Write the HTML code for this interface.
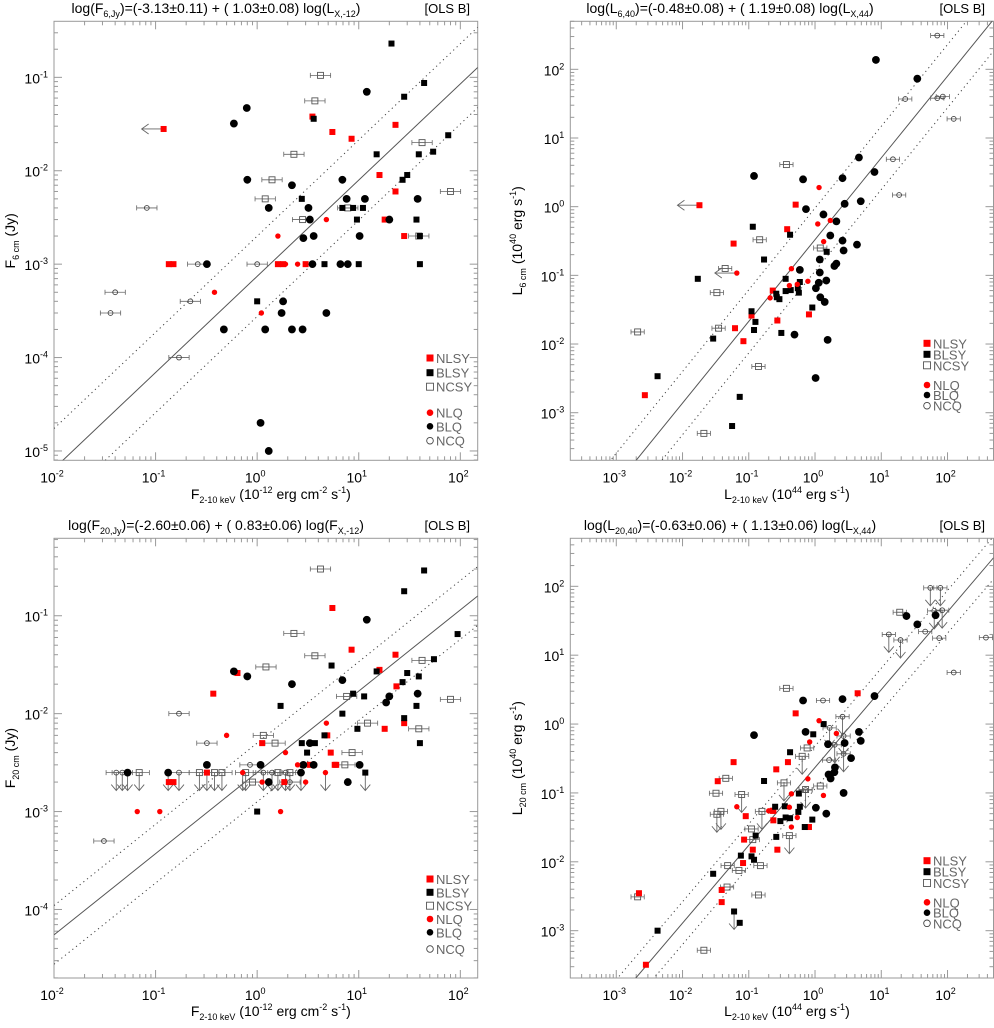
<!DOCTYPE html>
<html><head><meta charset="utf-8">
<style>
html,body{margin:0;padding:0;background:#fff;}
svg{display:block;font-family:"Liberation Sans",Arial,sans-serif;}
</style></head>
<body>
<svg id="chart" width="994" height="1028" viewBox="0 0 994 1028" xmlns="http://www.w3.org/2000/svg"></svg>
<script>
// ===== Panel 1: F6cm vs F2-10keV =====
const p1_nlsy_x=[3.5,5.5,8.5,23,16,23,18,28,0.135,0.15,1.6,1.8,3.0];
const p1_nlsy_y=[0.038,0.026,0.022,0.031,0.009,0.006,0.003,0.002,0.001,0.001,0.001,0.001,0.001];
const p1_nlsy_lx=[0.12]; const p1_nlsy_ly=[0.028];
const p1_nlq_x=[1.6,4.8,0.38,1.1,1.9,2.5];
const p1_nlq_y=[0.002,0.003,0.0005,0.0003,0.001,0.001];
const p1_blsy_x=[21,44,28,3.6,15,54,39,27,30,76,2.75,6.9,8.8,11,9.6,37,40,4.6,10,40,1.0];
const p1_blsy_y=[0.23,0.087,0.062,0.036,0.015,0.016,0.015,0.008,0.009,0.024,0.005,0.004,0.004,0.004,0.003,0.003,0.002,0.001,0.001,0.001,0.0004];
const p1_blq_x=[0.79,0.59,12,0.8,2.2,6.9,1.3,3.2,7.6,11.5,38,3.3,20,2.85,3.6,10.2,0.32,3.5,6.6,7.8,1.8,1.74,4.8,0.47,1.2,2.2,2.8,1.08,1.3];
const p1_blq_y=[0.047,0.032,0.07,0.008,0.007,0.008,0.004,0.004,0.005,0.005,0.005,0.003,0.003,0.0019,0.002,0.002,0.001,0.001,0.001,0.001,0.0004,0.0003,0.0003,0.0002,0.0002,0.0002,0.0002,0.00002,0.00001];
const p1_ncsy_x=[4.2,3.7,2.3,1.4,1.2,2.8,7.8,42,80,39];
const p1_ncsy_y=[0.105,0.056,0.015,0.008,0.005,0.003,0.004,0.02,0.006,0.002];
const p1_ncq_x=[0.082,0.26,1.0,0.04,0.036,0.22,0.17];
const p1_ncq_y=[0.004,0.001,0.001,0.0005,0.0003,0.0004,0.0001];

// ===== Panel 2: L6cm vs L2-10keV =====
const p2_nlsy_x=[0.51,0.38,0.059,0.23,0.062,0.083,0.27,0.81,0.0027,0.11];
const p2_nlsy_y=[1.07,0.47,0.29,0.06,0.017,0.011,0.022,0.027,0.0018,0.026];
const p2_nlsy_lx=[0.018]; const p2_nlsy_ly=[1.05];
const p2_nlq_x=[1.15,1.1,1.7,1.35,0.44,0.21,0.41,0.54,0.78];
const p2_nlq_y=[1.9,0.56,0.63,0.31,0.125,0.047,0.071,0.074,0.082];
const p2_nlq_lx=[0.066]; const p2_nlq_ly=[0.108];
const p2_blsy_x=[0.115,0.42,0.17,0.017,0.36,0.26,0.265,0.29,0.36,0.43,0.59,0.57,0.55,0.11,0.126,0.12,0.31,0.91,1.5,0.029,0.0042,0.073,0.056];
const p2_blsy_y=[0.51,0.39,0.17,0.089,0.089,0.054,0.048,0.045,0.059,0.061,0.08,0.056,0.065,0.03,0.021,0.016,0.0145,0.034,0.22,0.012,0.0034,0.0017,0.00064];
const p2_blq_x=[8.3,35,0.12,0.66,2.6,4.6,7.9,0.73,1.34,2.8,4.9,2.1,1.7,2.6,4.3,2.7,1.18,2.1,1.96,0.59,1.18,1.48,1.14,1.03,1.2,1.4,0.49,1.55,1.02];
const p2_blq_y=[137,73,2.8,2.5,2.6,5.2,3.2,0.92,0.77,1.1,1.2,0.61,0.38,0.32,0.28,0.23,0.17,0.148,0.137,0.12,0.11,0.084,0.078,0.065,0.048,0.041,0.0137,0.0115,0.0032];
const p2_ncsy_x=[0.37,0.146,1.2,0.044,0.033,0.035,0.0021,0.14,0.021];
const p2_ncsy_y=[4.1,0.33,0.25,0.126,0.056,0.017,0.015,0.0047,0.0005];
const p2_ncq_x=[70,23,70,85,124,15,18.6];
const p2_ncq_y=[310,37,38,40,19,4.9,1.48];

// ===== Panel 3: F20cm vs F2-10keV =====
const p3_nlsy_x=[5.5,8.5,23,16,23.5,28,18,0.37,0.64,1.12,4.9,5.3,5.8,6.0,3.3,0.135,0.15,1.85];
const p3_nlsy_y=[0.12,0.045,0.040,0.028,0.019,0.008,0.007,0.016,0.026,0.005,0.006,0.004,0.003,0.003,0.003,0.002,0.002,0.002];
const p3_nlsy_ux=[0.32]; const p3_nlsy_uy=[0.0025];
const p3_nlq_x=[0.5,4.8,1.9,2.5,1.12,3.0,0.066,0.11,1.7];
const p3_nlq_y=[0.006,0.008,0.004,0.003,0.002,0.002,0.001,0.001,0.001];
const p3_nlq_ux=[0.72,4.7]; const p3_nlq_uy=[0.0025,0.0025];
const p3_blsy_x=[44,28,5.4,94,55,30,27,39,8.8,11.3,15,6.9,37,1.7,9.7,28,40,2.75,3.7,3.1,4.6,1.0];
const p3_blsy_y=[0.29,0.178,0.031,0.065,0.036,0.026,0.021,0.024,0.016,0.015,0.027,0.01,0.012,0.012,0.007,0.009,0.005,0.005,0.005,0.004,0.006,0.001];
const p3_blsy_ux=[11.6]; const p3_blsy_uy=[0.0025];
const p3_blq_x=[12,0.59,0.8,2.2,6.9,20,18.6,38,3.3,2.85,3.6,10.2,1.08,0.32,1.3,7.8];
const p3_blq_y=[0.091,0.027,0.024,0.020,0.022,0.015,0.013,0.016,0.005,0.003,0.003,0.003,0.003,0.003,0.002,0.002];
const p3_blq_ux=[2.7,0.053,0.133]; const p3_blq_uy=[0.0025,0.0025,0.0025];
const p3_ncsy_x=[4.2,2.3,3.7,1.22,7.6,42,80,12.2,1.15,1.5,8.6,7.3,39,0.9];
const p3_ncsy_y=[0.3,0.066,0.039,0.03,0.015,0.035,0.014,0.008,0.006,0.005,0.004,0.003,0.007,0.002];
const p3_ncsy_ux=[0.069,0.27,0.38,0.45,0.77,1.6,2.1]; const p3_ncsy_uy=[0.0025,0.0025,0.0025,0.0025,0.0025,0.0025,0.0025];
const p3_ncq_x=[0.17,0.32,0.85,2.1,0.031];
const p3_ncq_y=[0.01,0.005,0.003,0.002,0.0005];
const p3_ncq_ux=[0.041,0.047,0.17,1.15,1.4,1.9]; const p3_ncq_uy=[0.0025,0.0025,0.0025,0.0025,0.0025,0.0025];

// ===== Panel 4: L20cm vs L2-10keV =====
const p4_nlsy_x=[0.51,0.059,0.034,0.39,0.26,0.23,0.235,0.235,0.085,0.082,0.115,0.27,0.039,0.039,0.0022,0.0028,0.81,4.4,0.09];
const p4_nlsy_y=[1.43,0.28,0.148,0.28,0.22,0.055,0.055,0.04,0.021,0.0096,0.015,0.015,0.0039,0.0026,0.0035,0.00032,0.032,2.8,0.046];
const p4_nlq_x=[1.15,2.1,0.83,0.78,0.44,1.34,0.41,0.066,0.54,0.44,0.20];
const p4_nlq_y=[1.12,0.73,0.55,0.16,0.097,0.092,0.062,0.063,0.044,0.032,0.055];
const p4_blsy_x=[1.35,0.94,0.42,0.17,0.57,0.25,0.35,0.59,0.56,0.3,0.36,0.42,0.91,0.70,0.26,0.11,0.127,0.12,0.076,0.029,0.0042,0.073];
const p4_blsy_y=[1.0,0.71,0.39,0.149,0.098,0.063,0.064,0.063,0.053,0.039,0.044,0.043,0.041,0.032,0.023,0.012,0.024,0.0107,0.0123,0.0067,0.001,0.0013];
const p4_blsy_ux=[0.060]; const p4_blsy_uy=[0.0019];
const p4_blq_x=[24,35,66,7.9,2.6,0.66,0.12,0.72,4.6,4.9,1.57,2.8,3.5,2.0,1.96,1.6,1.72,2.7,1.03,1.48];
const p4_blq_y=[37,28,38,2.55,2.3,2.2,0.69,0.77,0.77,0.57,0.51,0.53,0.32,0.235,0.2,0.185,0.162,0.1,0.061,0.05];
const p4_ncsy_x=[0.37,0.76,1.2,0.032,0.045,0.11,0.115,0.048,0.071,0.15,0.047,0.14,0.0021,0.021,19,0.72];
const p4_ncsy_y=[3.3,0.45,0.126,0.099,0.163,0.030,0.021,0.0088,0.0075,0.0088,0.0043,0.0033,0.0031,0.00052,42,0.112];
const p4_ncsy_ux=[0.64,0.34,0.078,0.033,0.038,0.158,0.41]; const p4_ncsy_uy=[0.34,0.14,0.095,0.049,0.054,0.054,0.024];
const p4_ncq_x=[46,75,380,124,1.32,1.63];
const p4_ncq_y=[22,17.7,18,5.6,2.2,0.30];
const p4_ncq_ux=[55,78,63,83,13,19.5,2.6,1.66,1.98,2.7,2.7,0.72]; const p4_ncq_uy=[95,95,44,45,20,16.6,1.28,0.88,0.5,0.37,0.67,0.11];

// fits
const p1_fit=[-3.13,1.03]; const p2_fit=[-0.48,1.19]; const p3_fit=[-2.60,0.83]; const p4_fit=[-0.63,1.13];

const NS="http://www.w3.org/2000/svg";
const svg=document.getElementById('chart');
function mk(tag,attrs,parent){const e=document.createElementNS(NS,tag);for(const k in attrs)e.setAttribute(k,attrs[k]);(parent||svg).appendChild(e);return e;}
const L10=Math.log10;

function sup10(g,x,y,exp,anchor,name){
  const t=mk('text',{x:x,y:y,'font-size':14,'text-anchor':anchor,fill:'#000'},g);
  
  
  t.innerHTML='10<tspan baseline-shift="6" font-size="9">'+exp+'</tspan>';
}

function panel(cfg){
  const g=mk('g',{});
  
  
  const {l,r,t,b,xlo,xhi,ylo,yhi}=cfg;
  const X=v=>l+(L10(v)-xlo)/(xhi-xlo)*(r-l);
  const Y=v=>b-(L10(v)-ylo)/(yhi-ylo)*(b-t);
  const XL=lv=>l+(lv-xlo)/(xhi-xlo)*(r-l);
  const YL=lv=>b-(lv-ylo)/(yhi-ylo)*(b-t);
  const fr=mk('rect',{x:l,y:t,width:r-l,height:b-t,fill:'none',stroke:'#999','stroke-width':1},g);
  
  
  const tk=mk('g',{stroke:'#999','stroke-width':1},g);
  
  
  for(let d=Math.floor(xlo);d<=Math.ceil(xhi);d++){
    for(let m=1;m<10;m++){const lv=d+L10(m);if(lv<xlo||lv>xhi)continue;const px=XL(lv);const len=m==1?8:4;
      mk('line',{x1:px,x2:px,y1:b,y2:b-len},tk);mk('line',{x1:px,x2:px,y1:t,y2:t+len},tk);}
    if(d>=xlo-1e-6&&d<=xhi+1e-6) sup10(g,XL(d)-2,b+22,d,'middle','x-tick-label');
  }
  for(let d=Math.floor(ylo);d<=Math.ceil(yhi);d++){
    for(let m=1;m<10;m++){const lv=d+L10(m);if(lv<ylo||lv>yhi)continue;const py=YL(lv);const len=m==1?8:4;
      mk('line',{x1:l,x2:l+len,y1:py,y2:py},tk);mk('line',{x1:r,x2:r-len,y1:py,y2:py},tk);}
    if(d>=ylo-1e-6&&d<=yhi+1e-6) sup10(g,l-6,YL(d)+6,d,'end','y-tick-label');
  }
  const cid='clip'+cfg.name;
  const cp=mk('clipPath',{id:cid},g);mk('rect',{x:l,y:t,width:r-l,height:b-t},cp);
  const fg=mk('g',{'clip-path':'url(#'+cid+')',fill:'none'},g);
  
  
  const [a,s]=cfg.fit;
  [[0,'none','#555'],[cfg.off,'1.2,3.5','#444'],[-cfg.off,'1.2,3.5','#444']].forEach(([o,da,col],i)=>{
    const ln=mk('line',{x1:XL(xlo),y1:YL(a+o+s*xlo),x2:XL(xhi),y2:YL(a+o+s*xhi),stroke:col,'stroke-width':1,'stroke-dasharray':da},fg);
    
    
  });
  const dg=mk('g',{},g);
  
  
  cfg.series.forEach(se=>{
    const st=se.style;
    for(let i=0;i<se.x.length;i++){
      const px=X(se.x[i]),py=Y(se.y[i]);
      const pg=mk('g',{},dg);
      
      
      if(st.err){const e=st.err;const x1=XL(L10(se.x[i])-e),x2=XL(L10(se.x[i])+e);
        mk('path',{d:`M${x1},${py}H${x2}M${x1},${py-2.5}V${py+2.5}M${x2},${py-2.5}V${py+2.5}`,stroke:'#666','stroke-width':0.8,fill:'none'},pg);}
      if(se.lim=='left'){mk('path',{d:`M${px},${py}H${px-22}M${px-15},${py-5}L${px-22},${py}L${px-15},${py+5}`,stroke:'#666','stroke-width':0.9,fill:'none'},pg);}
      if(se.lim=='down'){mk('path',{d:`M${px},${py}V${py+18}M${px-5},${py+12}L${px},${py+18}L${px+5},${py+12}`,stroke:'#666','stroke-width':0.9,fill:'none'},pg);}
      drawMarker(pg,st,px,py);
    }
  });
  const lg=mk('g',{},g);
  
  
  cfg.legend.forEach((it,i)=>{
    const ly=cfg.legY[i];
    const eg=mk('g',{},lg);
    
    
    drawMarker(eg,Object.assign({},it[1],{err:0,r:it[1].shape=='c'?3.3:it[1].r,s:7}),cfg.legX,ly);
    const tx=mk('text',{x:cfg.legX+6,y:ly+5,'font-size':13,fill:'#666'},eg);
    tx.textContent=it[0];
  });
  const ti=mk('text',{x:cfg.titleX,y:cfg.titleY,'font-size':14,'text-anchor':'middle'},g);
  
  
  ti.innerHTML=cfg.title;
  const ols=mk('text',{x:cfg.olsX,y:cfg.titleY,'font-size':13,'text-anchor':'end'},g);
  
  
  ols.textContent='[OLS B]';
  const xl=mk('text',{x:(l+r)/2+5,y:cfg.xlabY,'font-size':14,'text-anchor':'middle'},g);
  
  
  xl.innerHTML=cfg.xlab;
  const yl=mk('text',{x:0,y:0,'font-size':14,'text-anchor':'middle',transform:`translate(${cfg.ylabX},${(t+b)/2}) rotate(-90)`},g);
  
  
  yl.innerHTML=cfg.ylab;
}
function drawMarker(g,st,px,py){
  if(st.shape=='s'){const s=st.s;
    mk('rect',{x:px-s/2,y:py-s/2,width:s,height:s,fill:st.fill,stroke:st.stroke,'stroke-width':st.fill=='none'?0.9:0},g);
    if(st.fill=='none'&&st.err){mk('line',{x1:px-s/2,x2:px+s/2,y1:py,y2:py,stroke:'#666','stroke-width':0.8},g);}
  } else {
    mk('circle',{cx:px,cy:py,r:st.r,fill:st.fill,stroke:st.stroke,'stroke-width':st.fill=='none'?0.9:0},g);
  }
}
const S_NLSY={shape:'s',s:6,fill:'#f00',stroke:'none'};
const S_BLSY={shape:'s',s:6,fill:'#000',stroke:'none'};
const S_NCSY={shape:'s',s:6,fill:'none',stroke:'#555',err:0.1};
const S_NLQ={shape:'c',r:2.7,fill:'#f00',stroke:'none'};
const S_BLQ={shape:'c',r:3.9,fill:'#000',stroke:'none'};
const S_NCQ={shape:'c',r:2.4,fill:'none',stroke:'#444',err:0.1};
const LEG=[['NLSY',S_NLSY],['BLSY',S_BLSY],['NCSY',S_NCSY],['NLQ',S_NLQ],['BLQ',S_BLQ],['NCQ',S_NCQ]];
const sub=(s)=>'<tspan baseline-shift="-4" font-size="9">'+s+'</tspan>';
const sp=(s)=>'<tspan baseline-shift="6" font-size="9">'+s+'</tspan>';

panel({name:'panel-f6-vs-fx',l:54,r:477.7,t:21.3,b:460.3,xlo:-2,xhi:2.171,ylo:-5.1,yhi:-0.4,fit:p1_fit,off:0.43,
 series:[{label:'NLSY',style:S_NLSY,x:p1_nlsy_x,y:p1_nlsy_y},{label:'NLSY',style:S_NLSY,x:p1_nlsy_lx,y:p1_nlsy_ly,lim:'left'},
 {label:'NCSY',style:S_NCSY,x:p1_ncsy_x,y:p1_ncsy_y},{label:'NCQ',style:S_NCQ,x:p1_ncq_x,y:p1_ncq_y},
 {label:'BLSY',style:S_BLSY,x:p1_blsy_x,y:p1_blsy_y},{label:'BLQ',style:S_BLQ,x:p1_blq_x,y:p1_blq_y},{label:'NLQ',style:S_NLQ,x:p1_nlq_x,y:p1_nlq_y}],
 legend:LEG,legX:430,legY:[358,372.7,386.7,412.7,426.3,440.7],
 titleX:216,titleY:13,olsX:470,xlabY:499,ylabX:15,
 title:'log(F'+sub('6,Jy')+')=(-3.13±0.11) + ( 1.03±0.08) log(L'+sub('X,-12')+')',
 xlab:'F'+sub('2-10 keV')+' (10'+sp('-12')+' erg cm'+sp('-2')+' s'+sp('-1')+')',
 ylab:'F'+sub('6 cm')+' (Jy)'});

panel({name:'panel-l6-vs-lx',l:570.3,r:993.5,t:21.3,b:460.3,xlo:-3.694,xhi:2.694,ylo:-3.693,yhi:2.699,fit:p2_fit,off:0.46,
 series:[{label:'NLSY',style:S_NLSY,x:p2_nlsy_x,y:p2_nlsy_y},{label:'NLSY',style:S_NLSY,x:p2_nlsy_lx,y:p2_nlsy_ly,lim:'left'},
 {label:'NCSY',style:S_NCSY,x:p2_ncsy_x,y:p2_ncsy_y},{label:'NCQ',style:S_NCQ,x:p2_ncq_x,y:p2_ncq_y},
 {label:'BLSY',style:S_BLSY,x:p2_blsy_x,y:p2_blsy_y},{label:'BLQ',style:S_BLQ,x:p2_blq_x,y:p2_blq_y},
 {label:'NLQ',style:S_NLQ,x:p2_nlq_x,y:p2_nlq_y},{label:'NLQ',style:S_NLQ,x:p2_nlq_lx,y:p2_nlq_ly,lim:'left'}],
 legend:LEG,legX:927,legY:[343.3,354.3,365.3,385,395,405.7],
 titleX:730,titleY:13,olsX:985,xlabY:499,ylabX:522,
 title:'log(L'+sub('6,40')+')=(-0.48±0.08) + ( 1.19±0.08) log(L'+sub('X,44')+')',
 xlab:'L'+sub('2-10 keV')+' (10'+sp('44')+' erg s'+sp('-1')+')',
 ylab:'L'+sub('6 cm')+' (10'+sp('40')+' erg s'+sp('-1')+')'});

panel({name:'panel-f20-vs-fx',l:54,r:477.7,t:538.3,b:978,xlo:-2,xhi:2.171,ylo:-4.70,yhi:-0.209,fit:p3_fit,off:0.3,
 series:[{label:'NCSY',style:S_NCSY,x:p3_ncsy_ux,y:p3_ncsy_uy,lim:'down'},{label:'NCQ',style:S_NCQ,x:p3_ncq_ux,y:p3_ncq_uy,lim:'down'},
 {label:'BLQ',style:S_BLQ,x:p3_blq_ux,y:p3_blq_uy,lim:'down'},{label:'BLSY',style:S_BLSY,x:p3_blsy_ux,y:p3_blsy_uy,lim:'down'},
 {label:'NLSY',style:S_NLSY,x:p3_nlsy_ux,y:p3_nlsy_uy,lim:'down'},{label:'NLQ',style:S_NLQ,x:p3_nlq_ux,y:p3_nlq_uy,lim:'down'},
 {label:'NCSY',style:S_NCSY,x:p3_ncsy_x,y:p3_ncsy_y},{label:'NCQ',style:S_NCQ,x:p3_ncq_x,y:p3_ncq_y},
 {label:'NLSY',style:S_NLSY,x:p3_nlsy_x,y:p3_nlsy_y},{label:'BLSY',style:S_BLSY,x:p3_blsy_x,y:p3_blsy_y},
 {label:'BLQ',style:S_BLQ,x:p3_blq_x,y:p3_blq_y},{label:'NLQ',style:S_NLQ,x:p3_nlq_x,y:p3_nlq_y}],
 legend:LEG,legX:430,legY:[879,892.3,905.7,919,932.3,949],
 titleX:216,titleY:530,olsX:470,xlabY:1016,ylabX:15,
 title:'log(F'+sub('20,Jy')+')=(-2.60±0.06) + ( 0.83±0.06) log(F'+sub('X,-12')+')',
 xlab:'F'+sub('2-10 keV')+' (10'+sp('-12')+' erg cm'+sp('-2')+' s'+sp('-1')+')',
 ylab:'F'+sub('20 cm')+' (Jy)'});

panel({name:'panel-l20-vs-lx',l:570.3,r:993.5,t:538.3,b:978,xlo:-3.694,xhi:2.694,ylo:-3.687,yhi:2.697,fit:p4_fit,off:0.31,
 series:[{label:'NCSY',style:S_NCSY,x:p4_ncsy_ux,y:p4_ncsy_uy,lim:'down'},{label:'NCQ',style:S_NCQ,x:p4_ncq_ux,y:p4_ncq_uy,lim:'down'},
 {label:'BLSY',style:S_BLSY,x:p4_blsy_ux,y:p4_blsy_uy,lim:'down'},
 {label:'NCSY',style:S_NCSY,x:p4_ncsy_x,y:p4_ncsy_y},{label:'NCQ',style:S_NCQ,x:p4_ncq_x,y:p4_ncq_y},
 {label:'NLSY',style:S_NLSY,x:p4_nlsy_x,y:p4_nlsy_y},{label:'BLSY',style:S_BLSY,x:p4_blsy_x,y:p4_blsy_y},
 {label:'BLQ',style:S_BLQ,x:p4_blq_x,y:p4_blq_y},{label:'NLQ',style:S_NLQ,x:p4_nlq_x,y:p4_nlq_y}],
 legend:LEG,legX:927,legY:[860.7,871.7,883,902.3,912.7,923.3],
 titleX:730,titleY:530,olsX:985,xlabY:1016,ylabX:522,
 title:'log(L'+sub('20,40')+')=(-0.63±0.06) + ( 1.13±0.06) log(L'+sub('X,44')+')',
 xlab:'L'+sub('2-10 keV')+' (10'+sp('44')+' erg s'+sp('-1')+')',
 ylab:'L'+sub('20 cm')+' (10'+sp('40')+' erg s'+sp('-1')+')'});
</script>
</body></html>
